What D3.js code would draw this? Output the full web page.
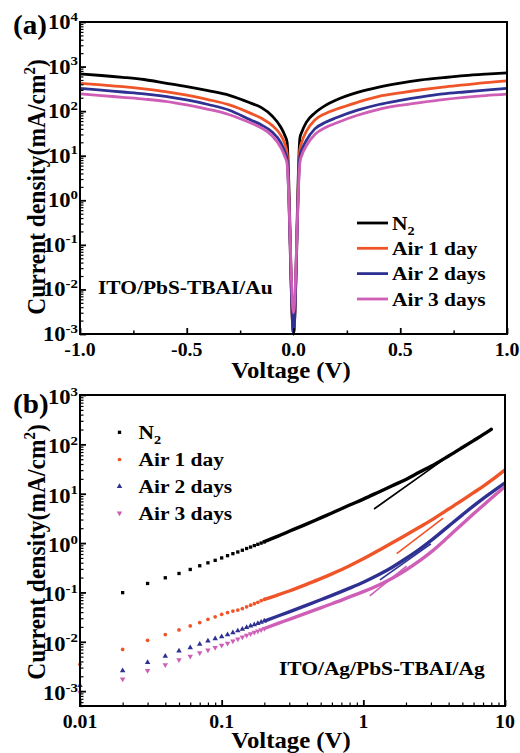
<!DOCTYPE html>
<html><head><meta charset="utf-8">
<script src="https://cdn.jsdelivr.net/npm/d3@7"></script>
<style>
html,body{margin:0;padding:0;background:#fff;}
svg{display:block;}
text{font-family:"Liberation Serif","Times New Roman",serif;font-weight:bold;fill:#000;}
</style>
</head><body>
<svg id="c" width="520" height="753"></svg>
<script>
// ================= DATA =================
const seriesNames = ["N2", "Air 1 day", "Air 2 days", "Air 3 days"];
const seriesColors = ["#000000", "#EF5529", "#2E3192", "#CF5FB6"];

// ---- panel (a): J-V, ITO/PbS-TBAI/Au ----
const voltageA = [-1.0,-0.9,-0.8,-0.7,-0.6,-0.5,-0.4,-0.3,-0.2,-0.15,-0.1,-0.06,-0.04,-0.03,0,
                  0.03,0.04,0.06,0.1,0.15,0.2,0.3,0.4,0.5,0.6,0.7,0.8,0.9,1.0];
const jA_N2   = [682,631,575,513,427,355,288,226,151,120,78,44,28,20,0.001,
                 25,35,56,91,135,178,263,347,427,501,562,624,676,724];
const jA_Air1 = [422,389,355,316,275,229,182,138,89,69,48,29,18,11.2,0.001,
                 14,21,35,63,89,110,158,214,257,302,347,389,437,479];
const jA_Air2 = [324,295,269,245,214,178,141,105,63,49,34,20,12,8.3,0.001,
                 10,14,22,40,56,71,105,141,174,209,243,269,295,324];
const jA_Air3 = [243,224,204,186,166,138,110,83,54,42,28,15.5,9.5,6.6,0.003,
                 7.1,10.5,16.6,30,43,54,81,110,135,158,182,204,224,240];
const xTickValuesA = [-1, -0.5, 0, 0.5, 1];
const xTickLabelsA = ["-1.0", "-0.5", "0.0", "0.5", "1.0"];
const xMinorA = [-0.75, -0.25, 0.25, 0.75];
const yTickExpA = [-3, -2, -1, 0, 1, 2, 3, 4];

// ---- panel (b): log-log J-V, ITO/Ag/PbS-TBAI/Ag ----
// discrete measured points (low voltage)
const voltageBpts = [0.01,0.02,0.03,0.04,0.05,0.06,0.07,0.08,0.09,0.10,
                     0.11,0.12,0.13,0.14,0.15,0.16,0.17,0.18,0.19,0.20];
const jB_N2_pts   = [null,0.099,0.152,0.198,0.242,0.292,0.347,0.398,0.447,0.50,
                     0.556,0.61,0.66,0.716,0.776,0.83,0.89,0.944,1.0,1.06];
const jB_Air1_pts = [0.0035,0.0070,0.0107,0.014,0.0174,0.021,0.0245,0.0285,0.032,0.036,
                     0.039,0.042,0.044,0.047,0.051,0.055,0.059,0.063,0.068,0.072];
const jB_Air2_pts = [0.0013,0.0026,0.0038,0.0051,0.0065,0.0076,0.0089,0.0104,0.0116,0.0127,
                     0.0139,0.0153,0.0167,0.0181,0.0196,0.021,0.0223,0.0236,0.025,0.0264];
const jB_Air3_pts = [0.00095,0.00175,0.0026,0.0034,0.0043,0.0051,0.0060,0.0068,0.0076,0.0085,
                     0.0093,0.0103,0.0114,0.0125,0.0135,0.0145,0.0155,0.0165,0.0175,0.0186];
// dense measured points (merge into a continuous band at higher voltage)
const voltageBdense = [0.2,0.25,0.3,0.4,0.5,0.6,0.8,1.0,1.3,1.6,2.0,2.5,3.0,4.0,5.0,6.0,7.0,8.0,10];
const jB_N2_dense   = [1.07,1.38,1.74,2.45,3.24,4.07,5.89,7.76,11.0,14.5,19.5,27.5,35.9,58.2,86.1,119,157,202,null];
const jB_Air1_dense = [0.072,0.089,0.107,0.147,0.19,0.238,0.347,0.479,0.724,1.01,1.46,2.11,2.88,4.9,7.4,10.5,14.1,18.6,30.5];
const jB_Air2_dense = [0.0263,0.0333,0.0405,0.0555,0.071,0.0869,0.122,0.161,0.233,0.325,0.486,0.752,1.12,2.21,3.73,5.68,7.96,10.5,16.5];
const jB_Air3_dense = [0.0186,0.0236,0.0285,0.0385,0.0488,0.059,0.081,0.1035,0.1435,0.194,0.284,0.439,0.655,1.36,2.44,3.91,5.79,8.09,14.0];
// SCLC fit lines (two end points each)
const fitV_N2 = [1.19, 3.66],  fitJ_N2 = [4.9, 48.6];
const fitV_Air1 = [1.72, 3.66], fitJ_Air1 = [0.61, 3.2];
const fitV_Air2 = [1.31, 3.0],  fitJ_Air2 = [0.18, 0.96];
const fitV_Air3 = [1.11, 2.02], fitJ_Air3 = [0.085, 0.34];
const xTickValuesB = [0.01, 0.1, 1, 10];
const xTickLabelsB = ["0.01", "0.1", "1", "10"];
const yTickExpB = [-3, -2, -1, 0, 1, 2, 3];

// ================= HELPERS =================
const svg = d3.select("#c");
const SX = 1.1; // horizontal glyph stretch of the original figure

function label(parent, x, y, parts, size, anchor, rotate) {
  const g = parent.append("g").attr("transform", rotate
    ? `translate(${x},${y}) rotate(-90) scale(1,${SX})`
    : `translate(${x},${y}) scale(${SX},1)`);
  const t = g.append("text").attr("text-anchor", anchor || "start").style("font-size", size + "px");
  parts.forEach(p => {
    const ts = t.append("tspan").text(p.t);
    if (p.size) ts.style("font-size", p.size + "px");
    if (p.dy) ts.attr("dy", p.dy);
  });
  return g;
}

function drawFrame(g, x, y) {
  const [x0, x1] = x.range(), [y0, y1] = y.range();
  g.append("rect").attr("x", x0).attr("y", y1).attr("width", x1 - x0).attr("height", y0 - y1)
    .attr("fill", "none").attr("stroke", "#000").attr("stroke-width", 2);
}

function tickAxis(g, axis, transform, width) {
  const a = g.append("g").attr("transform", transform).call(axis);
  a.select(".domain").remove();
  a.selectAll("text").remove();
  a.selectAll("line").attr("stroke", "#000").attr("stroke-width", width);
  return a;
}

const isMinor = t => Math.abs(Math.log10(t) - Math.round(Math.log10(t))) > 1e-6;

function yTickLabels(g, y, exps, x, dyBase) {
  exps.forEach(e => {
    label(g, x, y(Math.pow(10, e)) + dyBase,
      [{t: "10"}, {t: String(e), size: 13.5, dy: -8.5}], 20.5, "end");
  });
}

function yTitle(g, x, cy) {
  label(g, x, cy, [{t: "Current density(mA/cm"}, {t: "2", size: 15, dy: -9}, {t: ")", dy: 9}], 23.5, "middle", true);
}

// ================= PANEL (a) =================
const xa = d3.scaleLinear().domain([-1, 1]).range([80, 507]);
const ya = d3.scaleLog().domain([1e-3, 1e4]).range([334, 22]);
const ga = svg.append("g");

const lineA = d3.line().x(d => xa(d.v)).y(d => ya(d.j)).curve(d3.curveMonotoneX);
[jA_N2, jA_Air1, jA_Air2, jA_Air3].forEach((arr, i) => {
  const pts = voltageA.map((v, k) => ({v, j: arr[k]}));
  ga.append("path").datum(pts).attr("d", lineA).attr("fill", "none")
    .attr("stroke", seriesColors[i]).attr("stroke-width", 2.8).attr("stroke-linejoin", "round");
});

tickAxis(ga, d3.axisBottom(xa).tickValues(xTickValuesA).tickSize(-6), "translate(0,334)", 1.8);
tickAxis(ga, d3.axisBottom(xa).tickValues(xMinorA).tickSize(-3.5), "translate(0,334)", 1.5);
tickAxis(ga, d3.axisLeft(ya).tickValues(yTickExpA.map(e => Math.pow(10, e))).tickSize(-6), "translate(80,0)", 1.8);
tickAxis(ga, d3.axisLeft(ya).tickValues(ya.ticks().filter(isMinor)).tickSize(-3.5), "translate(80,0)", 1.2);
drawFrame(ga, xa, ya);

xTickValuesA.forEach((v, i) => label(ga, xa(v), 356, [{t: xTickLabelsA[i]}], 18, "middle"));
yTickLabels(ga, ya, yTickExpA, 78, 7);
label(ga, 291, 378, [{t: "Voltage (V)"}], 22.5, "middle");
yTitle(ga, 45, 187);
label(ga, 13, 34, [{t: "(a)"}], 26.5, "start");
label(ga, 98, 294, [{t: "ITO/PbS-TBAI/Au"}], 19.5, "start");

// legend (a)
const legA = [223, 248.3, 273.6, 299];
seriesNames.forEach((n, i) => {
  ga.append("line").attr("x1", 357).attr("x2", 388).attr("y1", legA[i]).attr("y2", legA[i])
    .attr("stroke", seriesColors[i]).attr("stroke-width", 2.8);
  const parts = n === "N2" ? [{t: "N"}, {t: "2", size: 13, dy: 5}] : [{t: n}];
  label(ga, 392, legA[i] + 6.5, parts, 19.5, "start");
});

// ================= PANEL (b) =================
const xb = d3.scaleLog().domain([0.01, 10]).range([80, 505]);
const yb = d3.scaleLog().domain([5e-4, 1e3]).range([706, 395]);
const gb = svg.append("g");

const symbols = [
  d3.symbol().type(d3.symbolSquare).size(11),
  d3.symbol().type(d3.symbolCircle).size(11),
  d3.symbol().type(d3.symbolTriangle).size(13),
  d3.symbol().type(d3.symbolTriangle).size(13)
];
const symRot = [0, 0, 0, 180];
const lineB = d3.line().x(d => xb(d.v)).y(d => yb(d.j)).curve(d3.curveMonotoneX);
const lineFit = d3.line().x(d => xb(d.v)).y(d => yb(d.j));

const ptsB = [jB_N2_pts, jB_Air1_pts, jB_Air2_pts, jB_Air3_pts];
const denseB = [jB_N2_dense, jB_Air1_dense, jB_Air2_dense, jB_Air3_dense];
const fitsB = [[fitV_N2, fitJ_N2], [fitV_Air1, fitJ_Air1], [fitV_Air2, fitJ_Air2], [fitV_Air3, fitJ_Air3]];

ptsB.forEach((arr, i) => {
  const dense = voltageBdense.map((v, k) => ({v, j: denseB[i][k]})).filter(d => d.j != null);
  gb.append("path").datum(dense).attr("d", lineB).attr("fill", "none")
    .attr("stroke", seriesColors[i]).attr("stroke-width", 3.4)
    .attr("stroke-linecap", i === 0 ? "round" : "butt").attr("stroke-linejoin", "round");
  const fit = fitsB[i][0].map((v, k) => ({v, j: fitsB[i][1][k]}));
  gb.append("path").datum(fit).attr("d", lineFit).attr("fill", "none")
    .attr("stroke", seriesColors[i]).attr("stroke-width", 1.6);
  const pts = voltageBpts.map((v, k) => ({v, j: arr[k]})).filter(d => d.j != null);
  gb.selectAll(null).data(pts).enter().append("path")
    .attr("d", symbols[i])
    .attr("transform", d => `translate(${xb(d.v)},${yb(d.j)}) rotate(${symRot[i]})`)
    .attr("fill", seriesColors[i]);
});

tickAxis(gb, d3.axisBottom(xb).tickValues(xTickValuesB).tickSize(-6), "translate(0,706)", 1.8);
tickAxis(gb, d3.axisBottom(xb).tickValues(xb.ticks().filter(isMinor)).tickSize(-3.5), "translate(0,706)", 1.2);
tickAxis(gb, d3.axisLeft(yb).tickValues(yTickExpB.map(e => Math.pow(10, e))).tickSize(-6), "translate(80,0)", 1.8);
tickAxis(gb, d3.axisLeft(yb).tickValues(yb.ticks().filter(isMinor)).tickSize(-3.5), "translate(80,0)", 1.2);
drawFrame(gb, xb, yb);

xTickValuesB.forEach((v, i) => label(gb, xb(v), 728, [{t: xTickLabelsB[i]}], 18, "middle"));
yTickLabels(gb, yb, yTickExpB, 78, 9);
label(gb, 291, 748, [{t: "Voltage (V)"}], 22.5, "middle");
yTitle(gb, 45, 552);
label(gb, 13, 413, [{t: "(b)"}], 26.5, "start");
label(gb, 279, 675, [{t: "ITO/Ag/PbS-TBAI/Ag"}], 19.5, "start");

// legend (b)
const legB = [432.3, 459.5, 486.5, 513];
seriesNames.forEach((n, i) => {
  gb.append("path").attr("d", symbols[i])
    .attr("transform", `translate(119.5,${legB[i]}) rotate(${symRot[i]})`)
    .attr("fill", seriesColors[i]);
  const parts = n === "N2" ? [{t: "N"}, {t: "2", size: 13, dy: 5}] : [{t: n}];
  label(gb, 138.5, legB[i] + 6.5, parts, 19.5, "start");
});
</script>
</body></html>
